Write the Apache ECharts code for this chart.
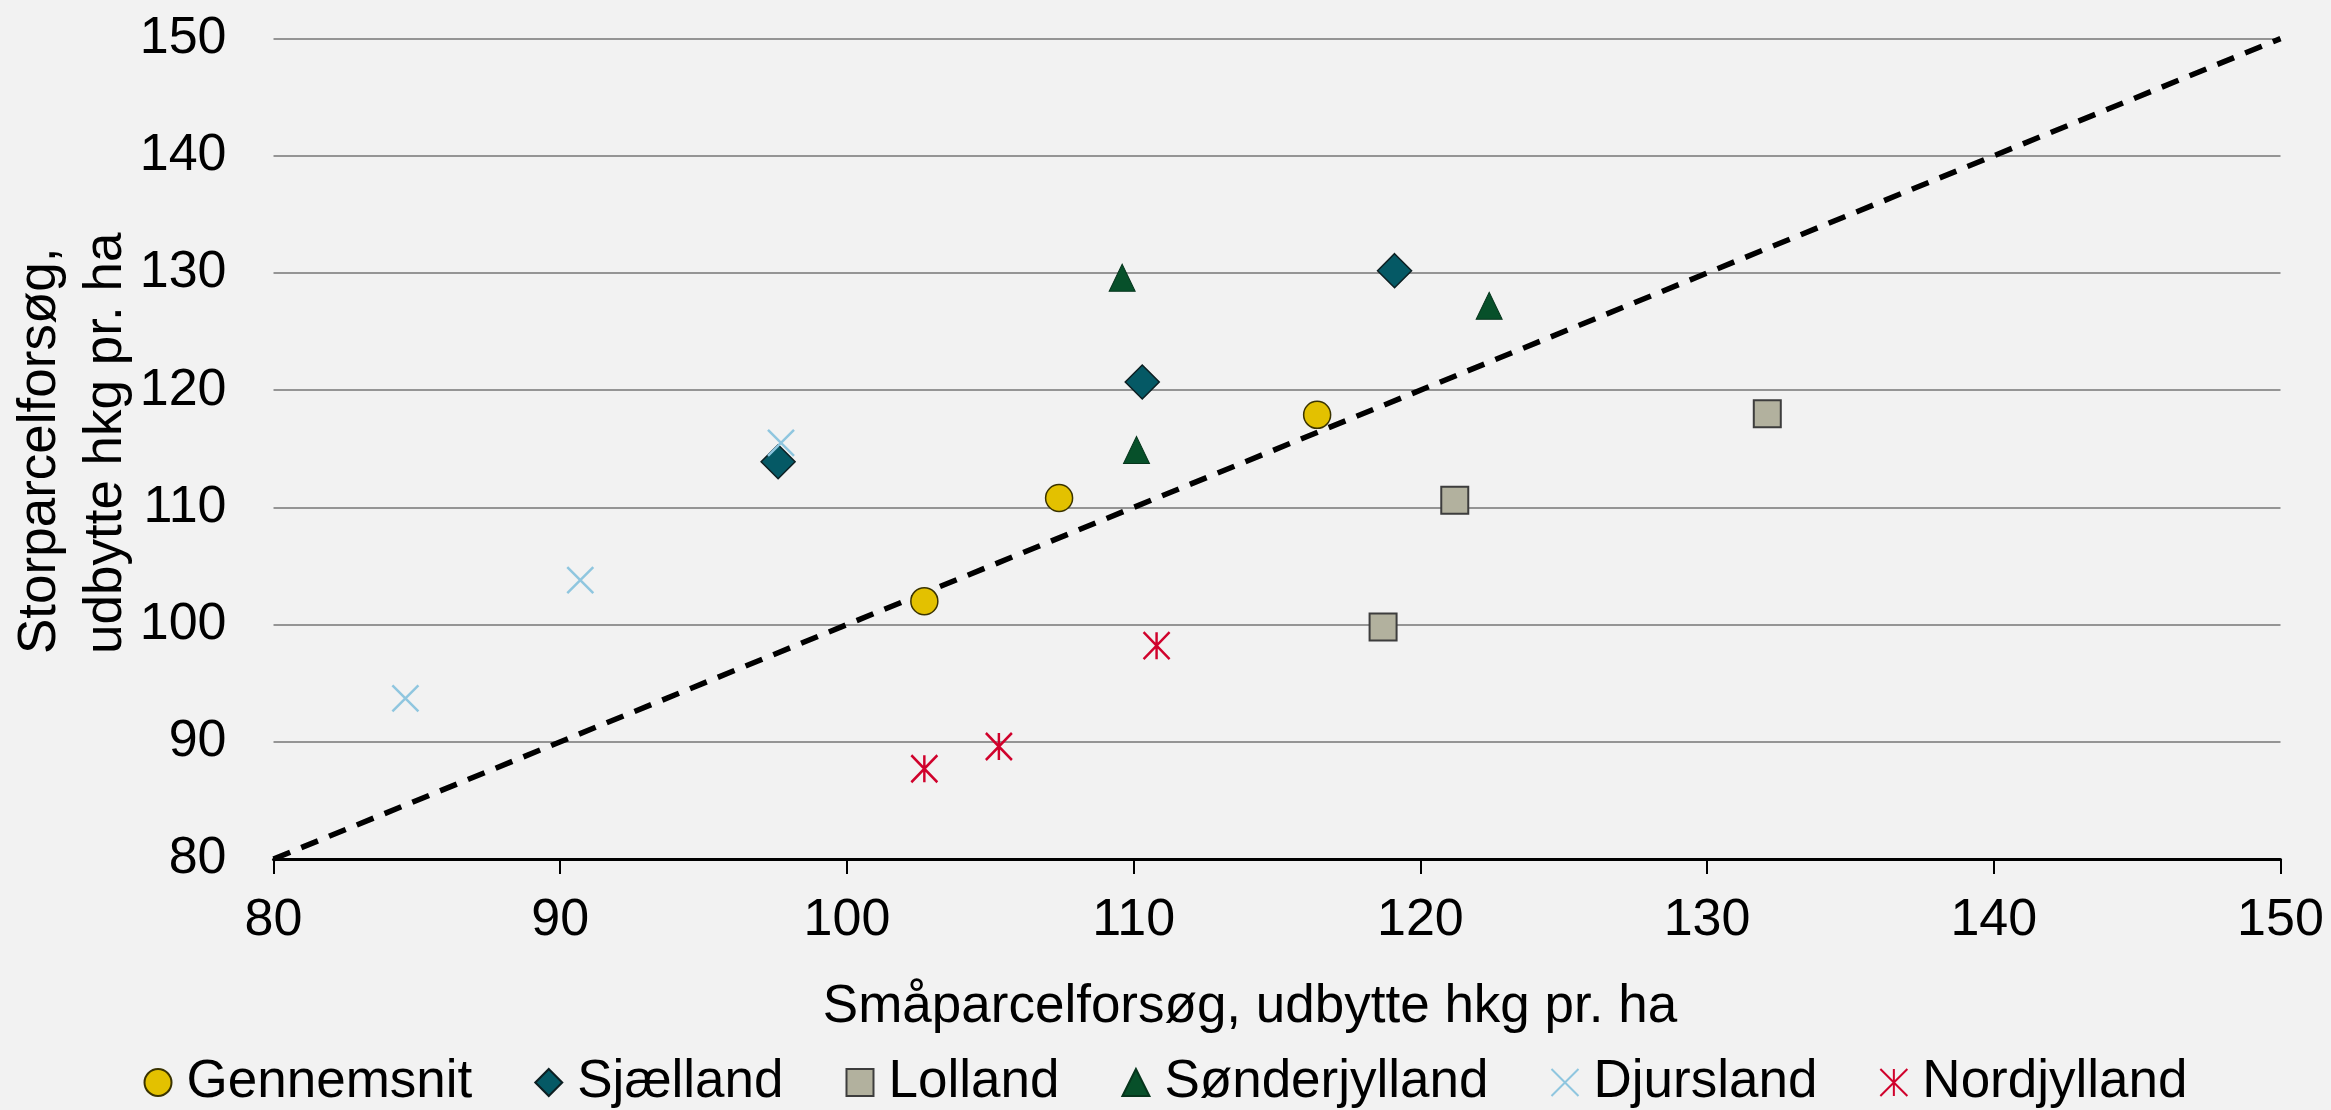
<!DOCTYPE html>
<html>
<head>
<meta charset="utf-8">
<title>Storparcel vs. småparcel</title>
<script src="https://cdn.jsdelivr.net/npm/echarts@6/dist/echarts.min.js"></script>
<style>
  html, body { margin: 0; padding: 0; background: #f2f2f2; }
  #chart { width: 2331px; height: 1110px; }
</style>
</head>
<body>
<div id="chart"></div>
<script>
// data: [småparcel, storparcel] in hkg pr. ha
const gennemsnit = [[102.7, 102.0], [107.4, 110.8], [116.4, 117.9]];
const sjaelland = [[97.6, 113.9], [110.3, 120.7], [119.1, 130.2]];
const lolland = [[118.7, 99.8], [121.2, 110.6], [132.1, 118.0]];
const soenderjylland = [[109.6, 129.6], [110.1, 114.9], [122.4, 127.2]];
const djursland = [[84.6, 93.7], [90.7, 103.8], [97.7, 115.5]];
const nordjylland = [[102.7, 87.7], [105.3, 89.6], [110.8, 98.2]];
const diagonal = [[80, 80], [150, 150]]; // 1:1 linje

const seriesNames = ['Gennemsnit', 'Sjælland', 'Lolland', 'Sønderjylland', 'Djursland', 'Nordjylland'];
const xAxisName = 'Småparcelforsøg, udbytte hkg pr. ha';
const yAxisName = 'Storparcelforsøg,\nudbytte hkg pr. ha';
const axisMin = 80, axisMax = 150, axisStep = 10;

const FONT = "'Liberation Sans', Arial, sans-serif";
const crossPath = 'path://M0,0L10,10M10,0L0,10';
const starPath = 'path://M0,0L10,10M10,0L0,10M5,0L5,10';

const chart = echarts.init(document.getElementById('chart'), null, { renderer: 'canvas' });

function scatter(name, data, symbol, size, itemStyle) {
  return {
    name: name,
    type: 'scatter',
    data: data,
    symbol: symbol,
    symbolSize: size,
    itemStyle: itemStyle,
    emphasis: { disabled: true },
    z: 3
  };
}

const option = {
  backgroundColor: '#f2f2f2',
  animation: false,
  textStyle: { fontFamily: FONT, color: '#000' },
  grid: { left: 273.5, right: 50.5, top: 38.6, bottom: 251 },
  legend: {
    data: seriesNames,
    top: 1051,
    left: 'center',
    itemWidth: 27,
    itemHeight: 27,
    itemGap: 62,
    textStyle: { fontFamily: FONT, fontSize: 53, color: '#000', padding: [0, 0, 0, 10] }
  },
  xAxis: {
    type: 'value',
    min: axisMin, max: axisMax, interval: axisStep,
    name: xAxisName,
    nameLocation: 'middle',
    nameGap: 122,
    nameTextStyle: { fontFamily: FONT, fontSize: 53, color: '#000', padding: [0, 54, 0, 0] },
    axisLine: { show: true, onZero: false, lineStyle: { color: '#000', width: 3 } },
    axisTick: { show: true, length: 15, lineStyle: { color: '#000', width: 2 } },
    axisLabel: { margin: 36, fontFamily: FONT, fontSize: 52, color: '#000' },
    splitLine: { show: false }
  },
  yAxis: {
    type: 'value',
    min: axisMin, max: axisMax, interval: axisStep,
    axisLine: { show: false },
    axisTick: { show: false },
    axisLabel: { margin: 47, fontFamily: FONT, fontSize: 52, color: '#000' },
    splitLine: { show: true, lineStyle: { color: '#959595', width: 2 } }
  },
  graphic: [{
    type: 'text',
    x: 73,
    y: 654,
    rotation: Math.PI / 2,
    style: {
      text: yAxisName,
      font: '53px ' + FONT,
      fill: '#000',
      align: 'left',
      verticalAlign: 'middle',
      lineHeight: 66
    }
  }],
  series: [
    {
      name: '1:1',
      type: 'line',
      data: diagonal,
      symbol: 'none',
      lineStyle: { color: '#000', width: 5.5, type: [18, 12] },
      emphasis: { disabled: true },
      z: 2
    },
    scatter(seriesNames[0], gennemsnit, 'circle', 27, { color: '#e3c100', borderColor: '#3a3300', borderWidth: 1.5, opacity: 1 }),
    scatter(seriesNames[1], sjaelland, 'diamond', 34, { color: '#055965', borderColor: '#0d1f22', borderWidth: 1.5, opacity: 1 }),
    scatter(seriesNames[2], lolland, 'rect', 27, { color: '#b2b19e', borderColor: '#3d3d3d', borderWidth: 2, opacity: 1 }),
    scatter(seriesNames[3], soenderjylland, 'triangle', [26, 27], { color: '#07502a', borderColor: '#06351c', borderWidth: 1, opacity: 1 }),
    scatter(seriesNames[4], djursland, crossPath, 26, { color: 'rgba(0,0,0,0)', borderColor: '#8fc6df', borderWidth: 2.5, opacity: 1 }),
    scatter(seriesNames[5], nordjylland, starPath, [26, 27], { color: 'rgba(0,0,0,0)', borderColor: '#d0022c', borderWidth: 2.5, opacity: 1 })
  ]
};

chart.setOption(option);
window.addEventListener('resize', () => chart.resize());
</script>
</body>
</html>
